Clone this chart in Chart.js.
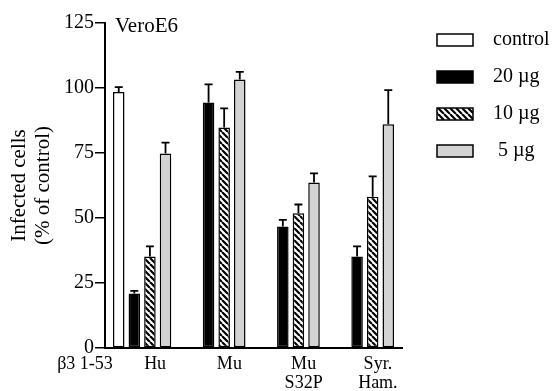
<!DOCTYPE html>
<html>
<head>
<meta charset="utf-8">
<script src="https://cdn.jsdelivr.net/npm/chart.js@4"></script>
<style>
  html, body { margin: 0; padding: 0; background: #fff; }
  #wrap { width: 556px; height: 391px; }
</style>
</head>
<body>
<div id="wrap"><canvas id="barChart"></canvas></div>
<script>
// groups on the x axis (control sits in the first group only)
const categories = ['Hu', 'Mu', ['Mu', 'S32P'], ['Syr.', 'Ham.']];
const seriesNames = ['control', '20 µg', '10 µg', ' 5 µg'];

// % of control
const control = [98.5, null, null, null];
const controlErr = [1.8, null, null, null];
const dose20 = [21.0, 94.4, 46.7, 35.2];
const dose20Err = [1.0, 7.0, 2.6, 3.9];
const dose10 = [35.2, 84.8, 51.8, 58.2];
const dose10Err = [3.9, 7.4, 3.4, 7.8];
const dose5 = [74.8, 103.3, 63.7, 86.1];
const dose5Err = [4.2, 2.9, 3.5, 13.1];

const yTicks = [0, 25, 50, 75, 100, 125];

Chart.defaults.font.family = "'Liberation Serif', 'Times New Roman', serif";
Chart.defaults.color = '#000';

// diagonal hatch for the 10 µg bars
function makeHatch() {
    let s = 6;
    let c = document.createElement('canvas');
    c.width = s;
    c.height = s;
    let g = c.getContext('2d');
    g.fillStyle = '#fff';
    g.fillRect(0, 0, s, s);
    g.strokeStyle = '#000';
    g.lineWidth = 2.2;
    g.beginPath();
    for (let k = -1; k <= 1; k++) {
        g.moveTo(k * s, 0);
        g.lineTo(k * s + s, s);
    }
    g.stroke();
    return g.createPattern(c, 'repeat');
}

// one-sided (upward) error bars with caps
const errorBars = {
    id: 'errorBars',
    afterDatasetsDraw(chart) {
        let ctx = chart.ctx;
        let yScale = chart.scales.y;
        ctx.save();
        ctx.strokeStyle = '#000';
        ctx.lineWidth = 1.8;
        chart.data.datasets.forEach((ds, i) => {
            let meta = chart.getDatasetMeta(i);
            meta.data.forEach((bar, j) => {
                let v = ds.data[j];
                let e = ds.errors[j];
                if (v == null || e == null) return;
                let yTop = yScale.getPixelForValue(v + e);
                ctx.beginPath();
                ctx.moveTo(bar.x, bar.y);
                ctx.lineTo(bar.x, yTop);
                ctx.moveTo(bar.x - 4, yTop);
                ctx.lineTo(bar.x + 4, yTop);
                ctx.stroke();
            });
        });
        ctx.restore();
    }
};

// panel title and the left-hand row label
const extraText = {
    id: 'extraText',
    afterDraw(chart) {
        let ctx = chart.ctx;
        let area = chart.chartArea;
        ctx.save();
        ctx.fillStyle = '#000';
        ctx.font = "21px 'Liberation Serif'";
        ctx.textAlign = 'left';
        ctx.textBaseline = 'alphabetic';
        ctx.fillText('VeroE6', area.left + 10, area.top + 9);
        ctx.font = "18px 'Liberation Serif'";
        ctx.textAlign = 'center';
        ctx.textBaseline = 'middle';
        ctx.fillText('β3 1-53', area.left - 20, area.bottom + 16);
        ctx.restore();
    }
};

// keep the legend away from the plot, like the original
const legendPlace = {
    id: 'legendPlace',
    beforeInit(chart) {
        let fit = chart.legend.fit;
        chart.legend.fit = function() {
            fit.call(this);
            this.width = 154;
        };
    },
    afterLayout(chart) {
        chart.legend.left += 18;
        chart.legend.top -= 10;
    }
};

let ctx = document.getElementById('barChart').getContext('2d');
let barChart = new Chart(ctx, {
    type: 'bar',
    data: {
        labels: categories,
        datasets: [
            { label: seriesNames[0], data: control, errors: controlErr, backgroundColor: '#ffffff' },
            { label: seriesNames[1], data: dose20, errors: dose20Err, backgroundColor: '#000000' },
            { label: seriesNames[2], data: dose10, errors: dose10Err, backgroundColor: makeHatch() },
            { label: seriesNames[3], data: dose5, errors: dose5Err, backgroundColor: '#d3d3d3' }
        ]
    },
    options: {
        responsive: true,
        maintainAspectRatio: false,
        animation: false,
        layout: { padding: { top: 23, right: 0, bottom: 0, left: 0 } },
        datasets: {
            bar: {
                borderColor: '#000',
                borderWidth: 1.5,
                borderSkipped: false,
                categoryPercentage: 0.84,
                barPercentage: 0.74
            }
        },
        scales: {
            x: {
                grid: { display: false, drawTicks: false },
                border: { color: '#000', width: 2 },
                ticks: {
                    padding: 6,
                    labelOffset: 13,
                    maxRotation: 0,
                    font: { size: 18, lineHeight: 1.1 }
                },
                afterFit(scale) { scale.height = 43; }
            },
            y: {
                min: 0,
                max: 125,
                afterBuildTicks(scale) {
                    scale.ticks = yTicks.map(v => ({ value: v }));
                },
                grid: { drawOnChartArea: false, tickLength: 10, color: '#000', lineWidth: 1.5 },
                border: { color: '#000', width: 2 },
                ticks: { padding: 1, font: { size: 20 } },
                title: {
                    display: true,
                    text: ['Infected cells', '(% of control)'],
                    font: { size: 21, lineHeight: 1.12 },
                    padding: { top: 8, bottom: 0 }
                },
                afterFit(scale) { scale.width = 105; }
            }
        },
        plugins: {
            legend: {
                position: 'right',
                align: 'start',
                labels: {
                    boxWidth: 36,
                    boxHeight: 12,
                    padding: 17,
                    font: { size: 20 },
                    generateLabels(chart) {
                        return Chart.defaults.plugins.legend.labels.generateLabels(chart)
                            .map(item => Object.assign(item, { text: '  ' + item.text }));
                    }
                }
            },
            tooltip: { enabled: false }
        }
    },
    plugins: [errorBars, extraText, legendPlace]
});
</script>
</body>
</html>
